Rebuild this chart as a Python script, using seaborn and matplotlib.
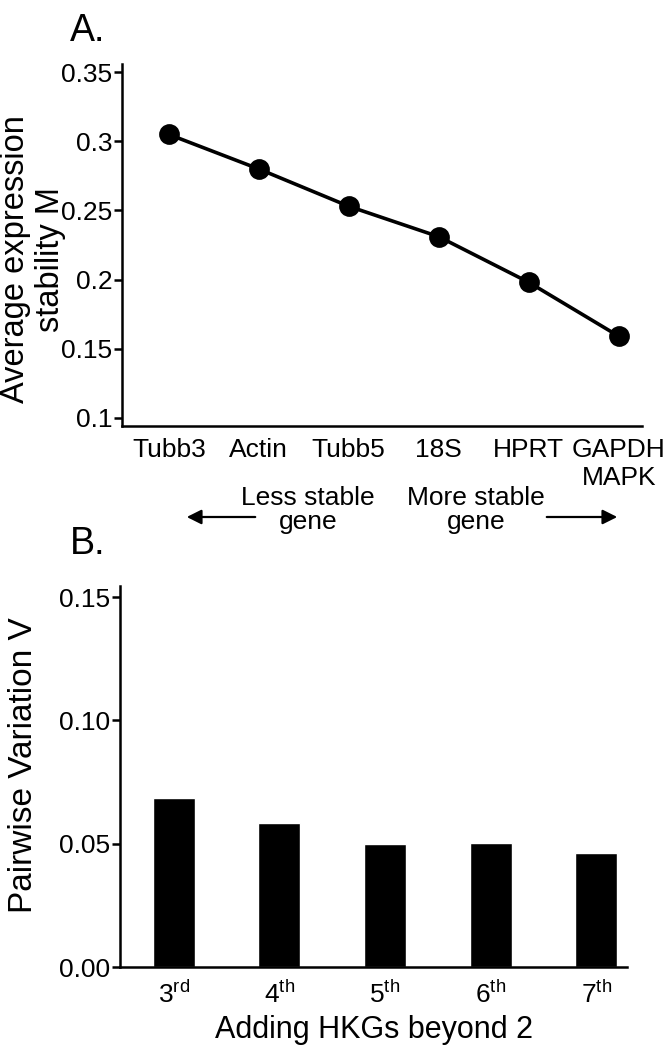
import matplotlib
matplotlib.use("Agg")
import matplotlib.pyplot as plt
import seaborn as sns

# ----------------------------
# DATA
# ----------------------------
genes = ["Tubb3", "Actin", "Tubb5", "18S", "HPRT", "GAPDH\nMAPK"]
stability_m = [0.305, 0.280, 0.253, 0.231, 0.198, 0.159]

hkg_steps = [r"3$^{rd}$", r"4$^{th}$", r"5$^{th}$", r"6$^{th}$", r"7$^{th}$"]
pairwise_v = [0.0684, 0.0583, 0.0499, 0.0504, 0.0464]

# ----------------------------
# STYLE
# ----------------------------
sns.set_style("ticks")
plt.rcParams["font.family"] = ["Liberation Sans", "DejaVu Sans"]
plt.rcParams["mathtext.default"] = "regular"
plt.rcParams["axes.linewidth"] = 1.8
plt.rcParams["ytick.major.width"] = 1.8
plt.rcParams["ytick.major.size"] = 6
for key in ["text.color", "axes.labelcolor", "axes.edgecolor",
            "xtick.color", "ytick.color"]:
    plt.rcParams[key] = "black"

fig = plt.figure(figsize=(6.69, 10.5), dpi=100)

# ----------------------------
# A. stability M
# ----------------------------
ax1 = fig.add_axes([0.1824, 0.5943, 0.7773, 0.3448])
sns.pointplot(x=genes, y=stability_m, color="black", markersize=13,
              linewidth=2.6, ax=ax1)
ax1.set_xlim(-0.52, 5.26)
ax1.set_ylim(0.094, 0.356)
ax1.set_yticks([0.1, 0.15, 0.2, 0.25, 0.3, 0.35])
ax1.set_yticklabels(["0.1", "0.15", "0.2", "0.25", "0.3", "0.35"])
ax1.tick_params(axis="y", labelsize=19, pad=1)
ax1.tick_params(axis="x", length=0, labelsize=19, pad=9)
ax1.set_ylabel("Average expression\nstability M", fontsize=23.5, linespacing=1.15)
ax1.yaxis.set_label_coords(-0.108, 0.46)
ax1.set_xlabel("")
sns.despine(ax=ax1)

fig.text(0.105, 0.988, "A.", fontsize=27, va="top", ha="left")

fig.text(308 / 669, 1 - 486 / 1050, "Less stable\ngene", fontsize=19,
         ha="center", va="top", linespacing=1.0)
fig.text(476 / 669, 1 - 486 / 1050, "More stable\ngene", fontsize=19,
         ha="center", va="top", linespacing=1.0)
arrow_y = 1 - 517 / 1050
fig.add_artist(matplotlib.patches.FancyArrowPatch(
    (258 / 669, arrow_y), (184 / 669, arrow_y), transform=fig.transFigure,
    arrowstyle="-|>", mutation_scale=22, lw=1.6, color="black"))
fig.add_artist(matplotlib.patches.FancyArrowPatch(
    (544 / 669, arrow_y), (620 / 669, arrow_y), transform=fig.transFigure,
    arrowstyle="-|>", mutation_scale=22, lw=1.6, color="black"))

# ----------------------------
# B. pairwise variation V
# ----------------------------
ax2 = fig.add_axes([0.1794, 0.079, 0.7578, 0.3629])
sns.barplot(x=hkg_steps, y=pairwise_v, color="black", saturation=1,
            width=0.4, ax=ax2)
ax2.set_xlim(-0.508, 4.29)
ax2.set_ylim(0, 0.1545)
ax2.set_yticks([0.0, 0.05, 0.10, 0.15])
ax2.set_yticklabels(["0.00", "0.05", "0.10", "0.15"])
ax2.tick_params(axis="y", labelsize=19, pad=1)
ax2.tick_params(axis="x", length=0, labelsize=19, pad=10)
ax2.set_ylabel("Pairwise Variation V", fontsize=24)
ax2.yaxis.set_label_coords(-0.16, 0.53)
ax2.set_xlabel("Adding HKGs beyond 2", fontsize=22, labelpad=5)
sns.despine(ax=ax2)

fig.text(0.105, 1 - 526 / 1050, "B.", fontsize=27, va="top", ha="left")

fig.savefig("out.png", dpi=100)
